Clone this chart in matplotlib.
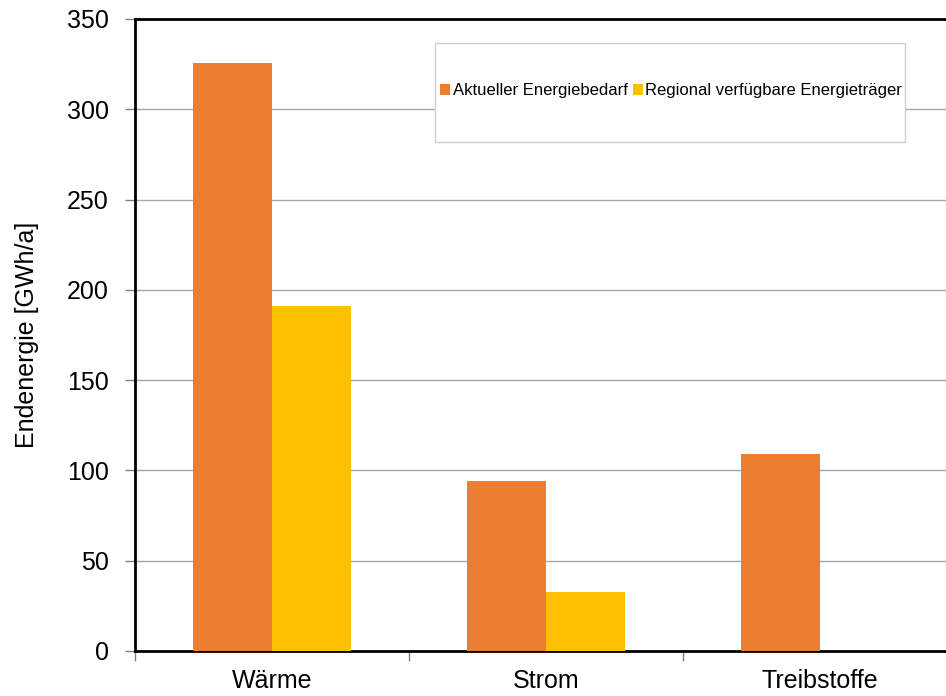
import matplotlib.pyplot as plt
import matplotlib.patches as mpatches
import numpy as np

plt.rcParams['font.family'] = ['Liberation Sans', 'DejaVu Sans']

categories = ['Wärme', 'Strom', 'Treibstoffe']
bedarf = [325.5, 94, 109]
regional = [191, 32.5, 0]
series_names = ['Aktueller Energiebedarf', 'Regional verfügbare Energieträger']
colors = ['#ED7D31', '#FFC000']

fig = plt.figure(figsize=(9.46, 6.96), dpi=100)
ax = fig.add_axes([135 / 946, 45 / 696, 822 / 946, 632 / 696])

x = np.arange(len(categories))
w = 0.287
b1 = ax.bar(x - w / 2, bedarf, w, color=colors[0], label=series_names[0], zorder=3)
b2 = ax.bar(x + w / 2, regional, w, color=colors[1], label=series_names[1], zorder=3)

ax.set_xlim(-0.5, 2.5)
ax.set_ylim(0, 350)
ax.set_yticks(np.arange(0, 351, 50))
ax.yaxis.grid(True, color='#a6a6a6', lw=1, zorder=0)

ax.set_xticks(x)
ax.set_xticklabels(categories, fontsize=18)
ax.set_xticks([-0.5, 0.5, 1.5], minor=True)
ax.tick_params(axis='x', which='major', length=0, pad=13)
ax.tick_params(axis='x', which='minor', length=7, color='#808080', width=1)
ax.tick_params(axis='y', labelsize=18, length=7, color='#808080', width=1, pad=12)

for side in ['left', 'top', 'bottom']:
    ax.spines[side].set_linewidth(2)
    ax.spines[side].set_color('black')
ax.spines['right'].set_visible(False)

ax.set_ylabel('Endenergie [GWh/a]', fontsize=18, labelpad=20)

# legend box
box = mpatches.Rectangle((435 / 946, 1 - 142 / 696), 470 / 946, 99 / 696,
                         transform=fig.transFigure, facecolor='white',
                         edgecolor='#d0d0d0', lw=1, zorder=5)
fig.patches.append(box)
leg = fig.legend(handles=[b1, b2], loc='center', bbox_to_anchor=(671 / 946, 1 - 91 / 696),
                 ncol=2, frameon=False, fontsize=12, handlelength=0.6, handleheight=0.6,
                 handletextpad=0.15, columnspacing=0.3)
leg.set_zorder(6)

fig.savefig('out.png', dpi=100)
